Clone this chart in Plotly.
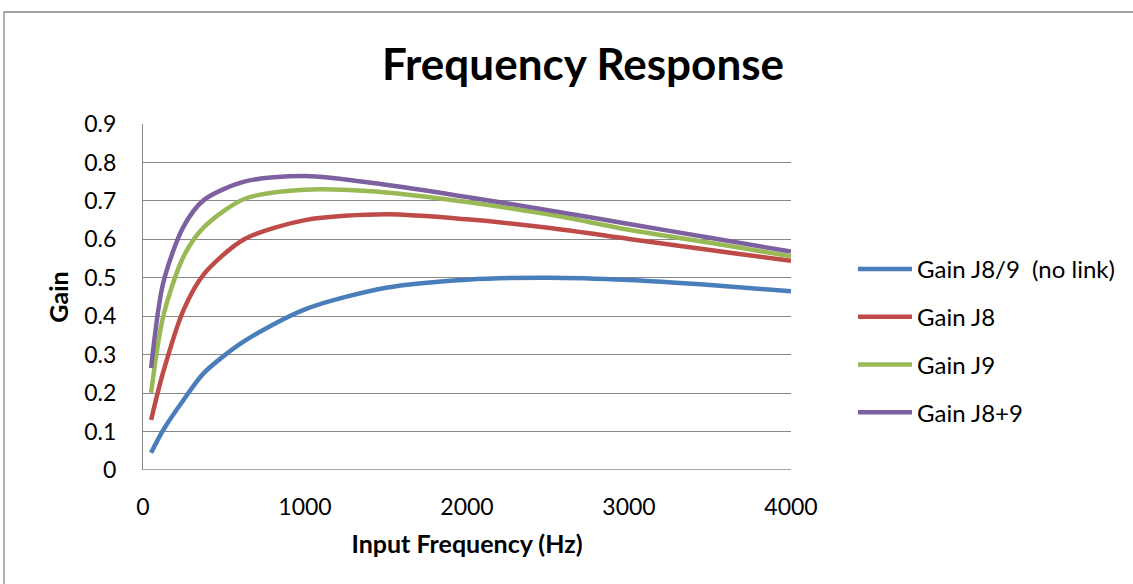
import plotly.graph_objects as go

freq = [50, 125, 250, 375, 625, 1000, 1500, 2000, 2500, 3000, 3500, 4000]
gain_nolink = [0.045, 0.104, 0.182, 0.252, 0.335, 0.418, 0.474, 0.495, 0.500, 0.494, 0.481, 0.465]
gain_j8 = [0.130, 0.255, 0.416, 0.509, 0.600, 0.650, 0.665, 0.652, 0.630, 0.601, 0.572, 0.544]
gain_j9 = [0.201, 0.400, 0.555, 0.631, 0.705, 0.729, 0.722, 0.697, 0.665, 0.625, 0.591, 0.556]
gain_j89 = [0.265, 0.487, 0.633, 0.702, 0.750, 0.765, 0.742, 0.710, 0.676, 0.640, 0.604, 0.568]

names = ["Gain J8/9  (no link)", "Gain J8", "Gain J9", "Gain J8+9"]
colors = ["#4A7EBB", "#BE4B48", "#98B954", "#7D60A0"]
series = [gain_nolink, gain_j8, gain_j9, gain_j89]

FONT = "Lato, 'Open Sans', sans-serif"

fig = go.Figure()
for i, (n, c, s) in enumerate(zip(names, colors, series)):
    fig.add_trace(go.Scatter(
        x=freq, y=s, mode="lines", name=n, legendgroup=f"g{i}",
        line=dict(color=c, width=4.5, shape="spline", smoothing=0.8),
    ))

L, R, T, B = 143, 1133 - 791, 124, 584 - 470
pw = 1133 - L - R
ph = 584 - T - B

fig.update_layout(
    width=1133, height=584,
    margin=dict(l=L, r=R, t=T, b=B),
    paper_bgcolor="white", plot_bgcolor="white",
    font=dict(family=FONT, size=23, color="black"),
    title=dict(text="<b>Frequency Response</b>", x=583 / 1133, xanchor="center",
               y=1 - 65 / 584, yanchor="middle",
               font=dict(family=FONT, size=44, color="black")),
    showlegend=True,
    legend=dict(x=(853 - L) / pw, xanchor="left", y=(470 - 247) / ph, yanchor="top",
                itemwidth=54, tracegroupgap=13.5, font=dict(size=24),
                bgcolor="rgba(0,0,0,0)"),
    xaxis=dict(range=[0, 4000], tickvals=[0, 1000, 2000, 3000, 4000],
               showgrid=False, zeroline=False, showline=False,
               ticks="", tickfont=dict(size=23), ticklabelstandoff=21,
               title=dict(text="<b>Input Frequency (Hz)</b>", font=dict(size=25), standoff=16)),
    yaxis=dict(range=[0, 0.9], dtick=0.1, tickformat="~g",
               showgrid=True, gridcolor="#878787", gridwidth=1.3,
               zeroline=False, showline=True, linecolor="#878787", linewidth=1.3,
               ticks="", tickfont=dict(size=23), ticklabelstandoff=21,
               title=dict(text="<b>Gain</b>", font=dict(size=25), standoff=8)),
)

# bottom axis line at y = 0
fig.add_shape(type="line", xref="paper", yref="y", x0=0, x1=1, y0=0, y1=0,
              line=dict(color="#878787", width=1.3), layer="below")
# chart area border
fig.add_shape(type="rect", xref="paper", yref="paper",
              x0=(4 - L) / pw, x1=(1140 - L) / pw,
              y0=(470 - 600) / ph, y1=(470 - 12) / ph,
              line=dict(color="#878787", width=1.3), layer="below")

fig.write_html("out.html")
